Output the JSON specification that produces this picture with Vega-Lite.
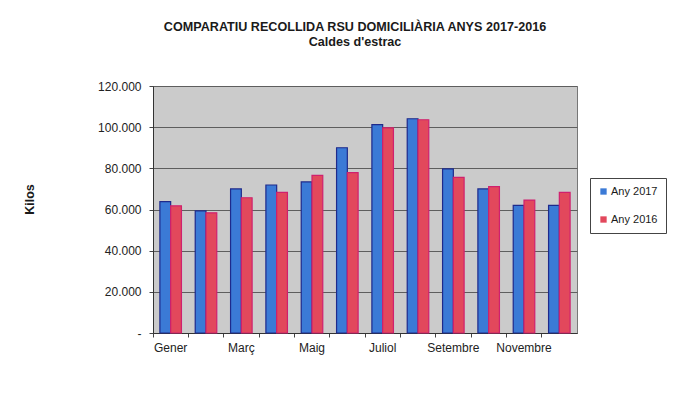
{
  "$schema": "https://vega.github.io/schema/vega-lite/v6.json",
  "width": 424,
  "height": 247,
  "autosize": "none",
  "padding": {"left": 153, "top": 86, "right": 104, "bottom": 79},
  "background": "white",
  "title": {
    "text": "COMPARATIU RECOLLIDA RSU DOMICILIÀRIA ANYS 2017-2016",
    "subtitle": "Caldes d'estrac",
    "font": "Liberation Sans",
    "fontSize": 12.6,
    "fontWeight": "bold",
    "color": "#1a1a1a",
    "subtitleFont": "Liberation Sans",
    "subtitleFontSize": 12.6,
    "subtitleFontWeight": "bold",
    "subtitleColor": "#1a1a1a",
    "subtitlePadding": 3,
    "anchor": "middle",
    "dx": -10,
    "offset": 31
  },
  "data": {
    "values": [
      {"mes": "Gener", "any": "Any 2017", "kilos": 63800},
      {"mes": "Gener", "any": "Any 2016", "kilos": 61800},
      {"mes": "Febrer", "any": "Any 2017", "kilos": 59300},
      {"mes": "Febrer", "any": "Any 2016", "kilos": 58400},
      {"mes": "Març", "any": "Any 2017", "kilos": 70000},
      {"mes": "Març", "any": "Any 2016", "kilos": 65700},
      {"mes": "Abril", "any": "Any 2017", "kilos": 71900},
      {"mes": "Abril", "any": "Any 2016", "kilos": 68300},
      {"mes": "Maig", "any": "Any 2017", "kilos": 73400},
      {"mes": "Maig", "any": "Any 2016", "kilos": 76600},
      {"mes": "Juny", "any": "Any 2017", "kilos": 90000},
      {"mes": "Juny", "any": "Any 2016", "kilos": 77900},
      {"mes": "Juliol", "any": "Any 2017", "kilos": 101200},
      {"mes": "Juliol", "any": "Any 2016", "kilos": 99700},
      {"mes": "Agost", "any": "Any 2017", "kilos": 104100},
      {"mes": "Agost", "any": "Any 2016", "kilos": 103600},
      {"mes": "Setembre", "any": "Any 2017", "kilos": 79700},
      {"mes": "Setembre", "any": "Any 2016", "kilos": 75600},
      {"mes": "Octubre", "any": "Any 2017", "kilos": 70000},
      {"mes": "Octubre", "any": "Any 2016", "kilos": 71100},
      {"mes": "Novembre", "any": "Any 2017", "kilos": 62000},
      {"mes": "Novembre", "any": "Any 2016", "kilos": 64600},
      {"mes": "Desembre", "any": "Any 2017", "kilos": 62000},
      {"mes": "Desembre", "any": "Any 2016", "kilos": 68300}
    ]
  },
  "mark": {"type": "bar", "strokeWidth": 1.2},
  "encoding": {
    "x": {
      "field": "mes",
      "type": "nominal",
      "sort": ["Gener", "Febrer", "Març", "Abril", "Maig", "Juny", "Juliol", "Agost", "Setembre", "Octubre", "Novembre", "Desembre"],
      "scale": {"paddingInner": 0, "paddingOuter": 0},
      "axis": {
        "title": null,
        "labelAngle": 0,
        "bandPosition": 0,
        "labelExpr": "indexof(['Gener','Març','Maig','Juliol','Setembre','Novembre'], datum.value) >= 0 ? datum.value : ''",
        "labelFont": "Liberation Sans",
        "labelFontSize": 12,
        "labelColor": "#222222",
        "labelPadding": 5,
        "tickSize": 4,
        "tickColor": "#444444",
        "domainColor": "#333333",
        "grid": false
      }
    },
    "xOffset": {
      "field": "any",
      "type": "nominal",
      "sort": ["Any 2017", "Any 2016"],
      "scale": {"paddingInner": 0, "paddingOuter": 0.64}
    },
    "y": {
      "field": "kilos",
      "type": "quantitative",
      "scale": {"domain": [0, 120000], "nice": false},
      "axis": {
        "title": "Kilos",
        "titleFont": "Liberation Sans",
        "titleFontSize": 12.5,
        "titleFontWeight": "bold",
        "titleColor": "#1a1a1a",
        "titleX": -124,
        "titleY": 113,
        "titleAngle": -90,
        "titleAlign": "center",
        "titleBaseline": "middle",
        "values": [0, 20000, 40000, 60000, 80000, 100000, 120000],
        "labelExpr": "datum.value == 0 ? '-' : replace(format(datum.value, ','), ',', '.')",
        "labelFont": "Liberation Sans",
        "labelFontSize": 12,
        "labelColor": "#222222",
        "labelPadding": 8,
        "tickSize": 4,
        "tickColor": "#444444",
        "domainColor": "#333333",
        "grid": true,
        "gridColor": "#5e5e5e",
        "gridWidth": 1
      }
    },
    "color": {
      "field": "any",
      "type": "nominal",
      "sort": ["Any 2017", "Any 2016"],
      "scale": {"domain": ["Any 2017", "Any 2016"], "range": ["#3b7ad6", "#e2485c"]},
      "legend": {
        "title": null,
        "orient": "none",
        "legendX": 437,
        "legendY": 92,
        "symbolType": "square",
        "symbolSize": 40,
        "symbolStrokeWidth": 0,
        "labelFont": "Liberation Sans",
        "labelFontSize": 11,
        "labelColor": "#1a1a1a",
        "labelOffset": 2,
        "rowPadding": 16,
        "padding": 8,
        "fillColor": "white",
        "strokeColor": "#444444"
      }
    },
    "stroke": {
      "field": "any",
      "type": "nominal",
      "scale": {"domain": ["Any 2017", "Any 2016"], "range": ["#1e2a8c", "#d0206e"]},
      "legend": null
    }
  },
  "config": {
    "view": {"fill": "#cbcbcb", "stroke": "#777777", "strokeWidth": 1}
  }
}
